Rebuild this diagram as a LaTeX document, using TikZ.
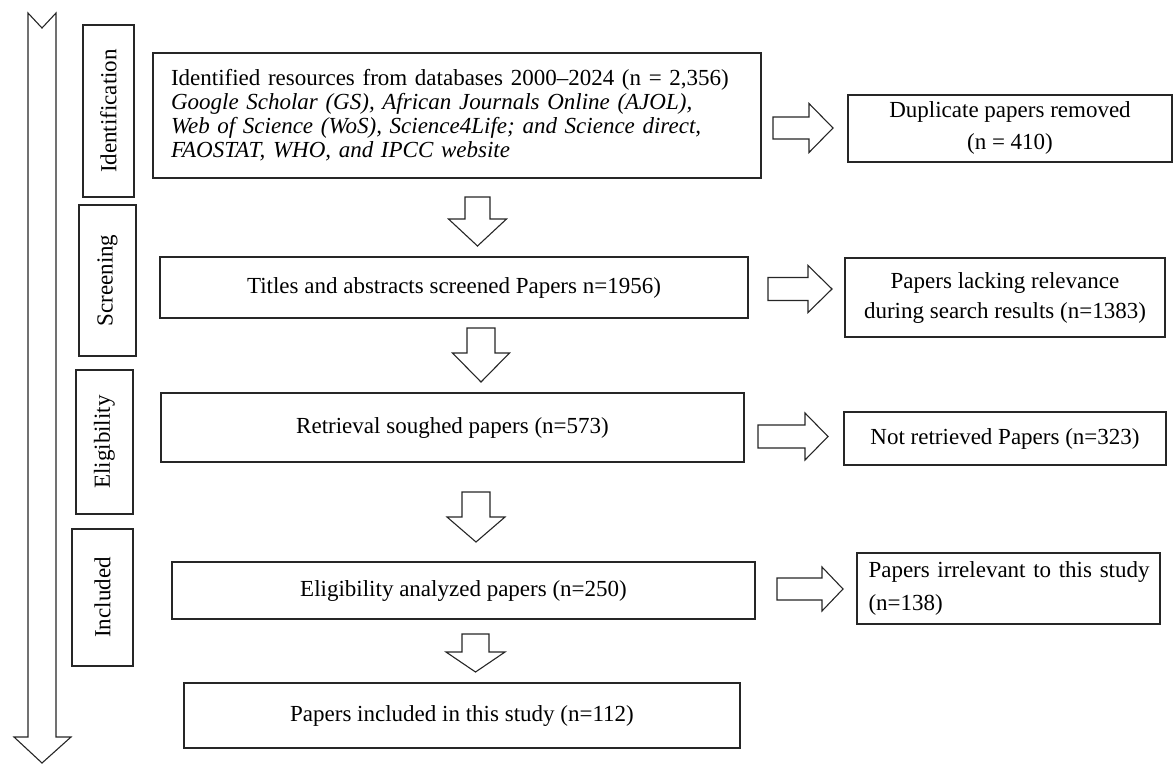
\documentclass[tikz,border=0pt]{standalone}
\usepackage{fontspec}
\setmainfont{Liberation Serif}
\newcommand\RightBlock[6]{% x0, xh, xt, yc, s, h
  \draw[blockarrow] (#1,#4-#5) -- (#2,#4-#5) -- (#2,#4-#6) -- (#3,#4) -- (#2,#4+#6) -- (#2,#4+#5) -- (#1,#4+#5) -- cycle;}
\newcommand\DownBlock[6]{% xc, y0, yh, yt, s, h
  \draw[blockarrow] (#1-#5,#2) -- (#1+#5,#2) -- (#1+#5,#3) -- (#1+#6,#3) -- (#1,#4) -- (#1-#6,#3) -- (#1-#5,#3) -- cycle;}
\tikzset{
  box/.style={draw=black!85, line width=1.1pt, inner sep=0pt, align=center,
    font=\fontsize{23}{24}\selectfont},
  phase/.style={box, rotate=90},
  blockarrow/.style={draw=black!85, line width=1.1pt, fill=white, line join=miter},
}
\begin{document}
\begin{tikzpicture}[x=1pt,y=-1pt]
\useasboundingbox (0,0) rectangle (1175,764);
% big left arrow
\draw[blockarrow] (28,13) -- (42,28) -- (56,13) -- (56,737) -- (71,737) -- (42,763) -- (14,737) -- (28,737) -- cycle;
% phase labels
\node[phase, minimum width=172, minimum height=51] (ident) at (108.5,111) {Identification};
\node[phase, minimum width=151, minimum height=57] (screen) at (107.5,280.5) {Screening};
\node[phase, minimum width=144, minimum height=57] (elig) at (104.5,442) {Eligibility};
\node[phase, minimum width=137, minimum height=61] (incl) at (102.5,597.5) {Included};
% main boxes
\node[box, minimum width=608, minimum height=125, text width=572, align=left] (b1) at (457,115.5)
 {Identified resources from databases 2000--2024 (n = 2,356)\\
  \textit{Google Scholar (GS), African Journals Online (AJOL),}\\
  \textit{Web of Science (WoS), Science4Life; and Science direct,}\\
  \textit{FAOSTAT, WHO, and IPCC website}};
\node[box, minimum width=588, minimum height=61] (b2) at (454,287.5) {Titles and abstracts screened Papers n=1956)};
\node[box, minimum width=583, minimum height=69] (b3) at (452.5,427.5) {Retrieval soughed papers (n=573)};
\node[box, minimum width=583, minimum height=57] (b4) at (463.5,590.5) {Eligibility analyzed papers (n=250)};
\node[box, minimum width=556, minimum height=65] (b5) at (462,715.5) {Papers included in this study (n=112)};
% side boxes
\node[box, minimum width=324, minimum height=67] (s1) at (1010,128.5)
 {\raisebox{-5pt}{\begin{tabular}{@{}c@{}}Duplicate papers removed\\[8pt](n = 410)\end{tabular}}};
\node[box, minimum width=320, minimum height=79] (s2) at (1005,297.5) {Papers lacking relevance\\[6pt]during search results (n=1383)};
\node[box, minimum width=322, minimum height=53] (s3) at (1005,438.5) {Not retrieved Papers (n=323)};
\node[box, minimum width=303, minimum height=71, text width=300, align=left] (s4) at (1008.5,588.5)
 {\hspace*{10pt}Papers irrelevant to this study\\[9pt]\hspace*{10pt}(n=138)};
% right block arrows
\RightBlock{773}{809}{833}{128}{11}{24.5}
\RightBlock{768}{808}{832}{289}{11.5}{23.5}
\RightBlock{758}{805}{828}{436.5}{11.5}{23.5}
\RightBlock{777}{822}{843}{589}{11}{22}
% down block arrows
\DownBlock{477.5}{197}{219}{246}{12.5}{29}
\DownBlock{481}{328}{353}{382}{14}{28.5}
\DownBlock{476}{492}{517}{542}{14}{29}
\DownBlock{475.5}{634}{652}{672}{13.5}{29.5}
\end{tikzpicture}
\end{document}
